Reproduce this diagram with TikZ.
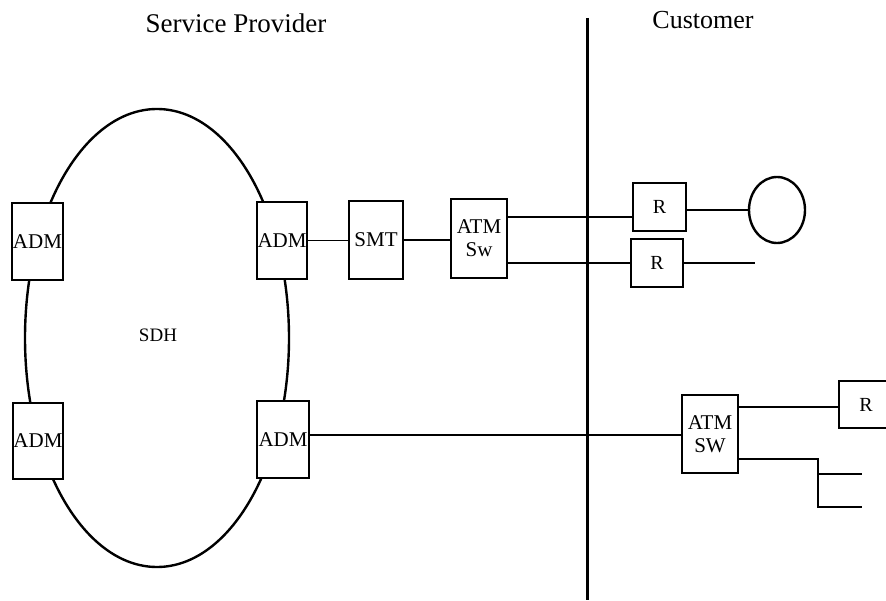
\documentclass[tikz,border=0pt]{standalone}
\usepackage{fontspec}
\setmainfont{Liberation Serif}
\usetikzlibrary{shapes.geometric}
\begin{document}
\begin{tikzpicture}[x=1pt,y=-1pt,
  box/.style={draw, line width=2.2pt, fill=white, inner sep=0pt, font=\fontsize{21}{21}\selectfont},
  wire/.style={line width=1.4pt},
  ring/.style={line width=2.4pt},
  lbl/.style={inner sep=0pt, font=\fontsize{27}{30}\selectfont}]
\useasboundingbox (0,0) rectangle (886,601);
% titles and divider
\node[lbl, anchor=base] (sp) at (236,33) {Service Provider};
\node[lbl, anchor=base, font=\fontsize{26}{30}\selectfont] (cu) at (703,29) {Customer};
\coordinate (dtop) at (587,18);
\coordinate (dbot) at (587,600);
\draw[line width=3pt] (dtop) -- (dbot);
% SDH ring
\draw[ring] (157,338) ellipse [x radius=132, y radius=229];
\node[inner sep=0pt, font=\fontsize{19}{20}\selectfont] (sdh) at (158,335) {SDH};
% ADMs
\node[box, minimum width=51, minimum height=77] (adm1) at (37.5,241.5) {ADM};
\node[box, minimum width=50, minimum height=77] (adm2) at (282,240.5) {ADM};
\node[box, minimum width=50, minimum height=76] (adm3) at (38,441) {ADM};
\node[box, minimum width=52, minimum height=77] (adm4) at (283,439.5) {ADM};
% upper chain
\node[box, minimum width=54, minimum height=78] (smt) at (376,240) {SMT};
\node[box, minimum width=56, minimum height=79, align=center] (atm1) at (479,238.5) {ATM\\[2pt]Sw};
\node[box, minimum width=53, minimum height=48, font=\fontsize{20}{20}\selectfont] (r1) at (659.5,207) {R};
\node[box, minimum width=52, minimum height=48, font=\fontsize{20}{20}\selectfont] (r2) at (657,263) {R};
\node[draw, ring, ellipse, minimum width=56, minimum height=66, inner sep=0pt] (circ) at (777,210) {};
\coordinate (r2end) at (755,263);
\draw[wire] (adm2.east) -- (adm2.east -| smt.west);
\draw[wire] (smt.east) -- (smt.east -| atm1.west);
\draw[wire] (atm1.east |- 0,217) -- (r1.west |- 0,217);
\draw[wire] (atm1.east |- r2.west) -- (r2.west);
\draw[wire] (circ.west -| r1.east) -- (circ.west);
\draw[wire] (r2.east) -- (r2end);
% lower chain
\node[box, minimum width=56, minimum height=78, align=center] (atm2) at (710,434) {ATM\\[2pt]SW};
\node[box, minimum width=54, minimum height=47, font=\fontsize{20}{20}\selectfont] (r3) at (866,404.5) {R};
\coordinate (br) at (818,459);
\coordinate (bb) at (818,507);
\coordinate (b1) at (862,474);
\coordinate (b2) at (862,507);
\draw[wire] (adm4.east |- 0,435) -- (atm2.west |- 0,435);
\draw[wire] (atm2.east |- 0,407) -- (r3.west |- 0,407);
\draw[wire] (atm2.east |- br) -- (br) -- (bb) -- (b2);
\draw[wire] (br |- b1) -- (b1);
\end{tikzpicture}
\end{document}
